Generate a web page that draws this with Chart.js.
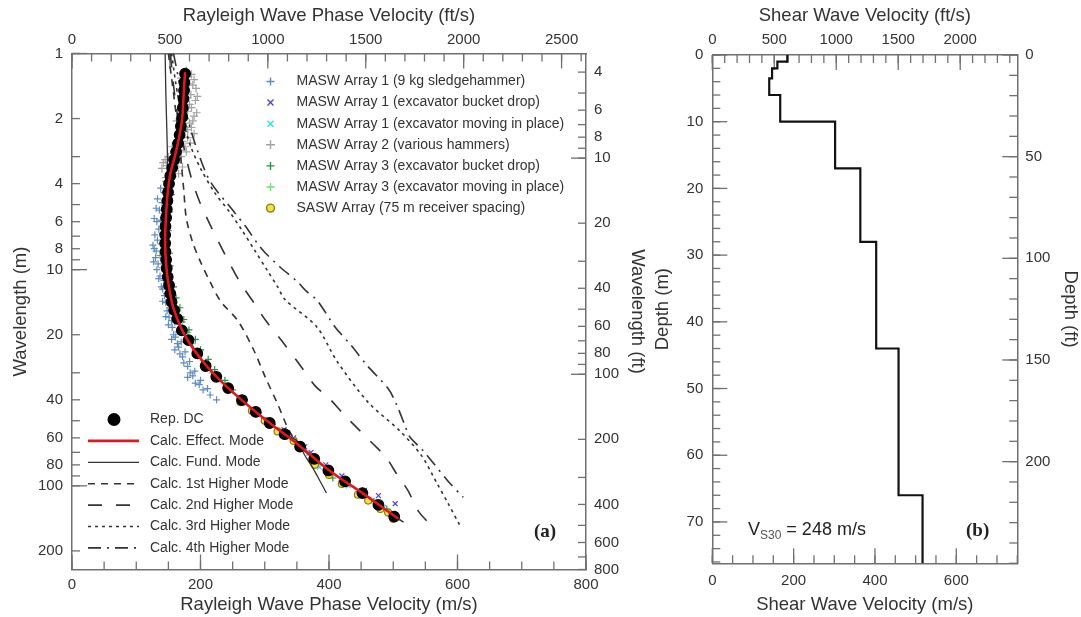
<!DOCTYPE html>
<html lang="en">
<head>
<meta charset="UTF-8" />
<title>Dispersion data and Vs profile</title>
<script src="https://cdn.jsdelivr.net/npm/chart.js"></script>
<style>
  body { margin: 0; background: #fff; }
  .wrap { position: relative; width: 1081px; height: 617px; }
  #dcBox { position: absolute; left: 0; top: 0; width: 650px; height: 617px; }
  #vsBox { position: absolute; left: 650px; top: 0; width: 431px; height: 617px; }
</style>
</head>
<body>
<div class="wrap">
  <div id="dcBox"><canvas id="dcChart"></canvas></div>
  <div id="vsBox"><canvas id="vsChart"></canvas></div>
</div>
<script>
const M_TO_FT = 3.28084;
const FONT = "'Liberation Sans', Arial, sans-serif";

// ---- (a) dispersion data: [phase velocity m/s, wavelength m] ----
const arr1Sledge = [[150,3.6],[146,3.9],[153,4.1],[143,4.4],[149,4.6],[140,4.9],[146,5.1],[136,5.3],[143,5.5],[150,5.7],[138,5.9],[145,6.2],[135,6.5],[141,6.8],[148,7.0],[133,7.3],[139,7.6],[145,7.9],[131,8.2],[137,8.6],[143,9.0],[134,9.4],[140,9.8],[146,10.2],[137,10.7],[143,11.2],[149,11.7],[141,12.3],[147,12.9],[153,13.5],[146,14.2],[152,15.0],[158,15.8],[151,16.6],[160,17.5],[156,18.5],[165,19.4],[161,20.5],[170,21.6],[166,22.8],[176,24],[172,25.3],[183,26.6],[180,28],[191,29.5],[188,31],[200,32.5],[198,34],[211,35.5],
  [138,4.2],[133,4.7],[131,5.2],[128,5.8],[132,6.0],[129,6.9],[126,7.7],[128,8.0],[130,8.8],[127,9.2],[132,10.0],[135,11.0],[139,12.0],[144,13.2],[141,14.0],[148,15.5],[146,16.5],[155,17.2],[150,18.0],[158,20.0],[155,21.0],[164,22.0],[160,23.5],[168,24.5],[174,27.0],[184,30.0],[180,31.5],[192,33.5],[204,36],[215,38],[225,40],[155,4.5],[152,5.4],[150,6.6],[152,8.4],[153,9.6],[150,12.2]];
const arr1Bucket = [[330,55],[345,60],[362,66],[372,70],[395,80],[420,90],[455,105],[477,111],[503,121]];
const arr1Moving = [[385,82],[400,88],[430,100],[455,110],[470,118],[485,126],[500,134]];
const arr2Hammers = [[178,1.2],[186,1.25],[170,1.3],[190,1.32],[182,1.38],[175,1.42],[193,1.45],[168,1.5],[185,1.55],[179,1.6],[192,1.65],[172,1.7],[186,1.78],[180,1.85],[168,1.9],[190,1.95],[176,2.0],[183,2.1],[170,2.15],[186,2.2],[175,2.3],[165,2.35],[180,2.45],[172,2.55],[162,2.6],[176,2.7],[168,2.8],[158,2.9],[150,3.0],[145,3.1],[155,3.15],[165,3.2],[148,3.3],[160,3.4],[152,3.55],[142,3.2],[170,3.0],
  [181,1.28],[188,1.4],[172,1.46],[195,1.58],[183,1.72],[176,1.82],[194,1.88],[188,2.05],[163,2.05],[180,2.25],[190,2.35],[170,2.45],[184,2.6],[156,2.7],[178,2.85],[162,3.05],[172,3.35],[140,3.4],[157,3.7],[146,3.75],[166,3.6]];
const arr3Bucket = [[158,12],[162,13.5],[168,15],[174,17],[182,19],[192,21],[200,23.5],[212,26],[222,29],[238,32.5],[250,36],[268,40],[290,46],[312,52],[335,59],[355,67],[370,72],[380,80],[406,92],[420,95],[448,108],[470,118],[490,128]];
const arr3Moving = [[165,15.5],[172,17.5],[180,19.5],[188,22],[198,24.5],[208,27],[218,30]];
const saswArray = [[262,41],[280,45],[300,50],[320,56],[345,62],[378,80],[400,89],[420,98],[445,110],[461,117],[480,128],[492,133],[500,142]];

const repDC = [[176,1.24],[175,1.36],[174.5,1.48],[173.5,1.62],[172.5,1.78],[171.5,1.97],[169.5,2.17],[167.5,2.38],[165,2.61],[162,2.85],[159,3.1],[156,3.38],[153,3.68],[151,4.0],[149.5,4.38],[148.5,4.8],[147.5,5.25],[146.5,5.75],[145.5,6.3],[145,6.9],[145,7.55],[145.5,8.25],[146.5,9.0],[147.5,9.85],[149,10.8],[151,11.8],[153,12.9],[155,14.1],[159,15.4],[164,16.9],[171,19.1],[181.5,21.2],[195,24.4],[208,27.9],[224.6,31.3],[243,35.3],[264.6,40.1],[286,45.5],[307.7,51.2],[331,57.7],[355,65.9],[377,75],[399,84.9],[425,95.3],[452,108],[477,122.6],[501.5,138.8]];
const effectMode = [[176,1.22],[174,1.5],[171.5,2.0],[166,2.5],[160,3.0],[153,3.6],[149,4.4],[146.5,5.5],[145,7.0],[145.5,8.5],[148,10.5],[152,12.5],[157,14.8],[165,17.2],[175,20],[190,23.5],[210,28],[235,33.5],[262,39.6],[290,46.5],[318,54],[345,62],[370,71.5],[395,82.5],[420,93.5],[446,105],[472,119],[496,134],[508,142]];
const fundMode = [[145,1.0],[146,1.5],[147.5,2.2],[148.5,3.0],[148,4.0],[147,5.0],[146,6.3],[145.5,7.5],[146,9],[148,10.8],[151.5,12.5],[155,14.3],[163,16.9],[171,19.1],[181.5,21.2],[195,24.4],[208,27.9],[225,31.3],[243,35.3],[265,40.1],[286,45.5],[308,51.2],[331,57.7],[351,62.3],[362,72],[374,82],[386,95],[396,108]];
const mode1 = [[150,1.0],[155,1.3],[160,1.7],[165,2.3],[170,3.2],[174,4.3],[178,5.8],[188,7.5],[200,9.2],[215,11.4],[232,14.1],[258,17.2],[283,23.6],[301,31.5],[320,41.8],[338,55.6],[355,65.9],[377,75],[399,84.9],[425,95.3],[452,108],[477,122.6],[502,138.8],[516,147]];
const mode2 = [[153,1.0],[158,1.4],[165,2.0],[175,2.8],[185,3.7],[198,4.8],[215,6.2],[238,8.5],[262,11.5],[285,14.5],[301.5,17.2],[330,22],[357,28.2],[378,34.4],[400,39.3],[422,46.4],[446,54.8],[466,62.9],[489,74],[507,89.8],[523,105.3],[539,131],[560,153.5]];
const mode3 = [[155,1.0],[162,1.4],[172,2.0],[185,2.7],[200,3.4],[222,4.4],[245,5.4],[265,6.6],[285,8.2],[305,10.2],[320,12],[332,13.8],[381,18.4],[412,26.4],[461,41.1],[510,55.6],[544,72.5],[568,97.3],[585,120],[604,153]];
const mode4 = [[158,1.0],[168,1.4],[180,2.0],[195,2.8],[215,3.9],[250,5.3],[270,6.3],[295,8.0],[325,9.8],[350,11.3],[365,12.6],[381,13.8],[410,18.5],[435,22.5],[459,27.7],[492,35.5],[505,42],[518,52.4],[526,59.5],[545,68],[562,78.2],[585,95],[609,113]];

// axis tick labels
const velTicks = [0, 200, 400, 600, 800];
const velFtTicks = [0, 500, 1000, 1500, 2000, 2500];
const wlTicks = [1, 2, 4, 6, 8, 10, 20, 40, 60, 80, 100, 200];
const wlFtTicks = [4, 6, 8, 10, 20, 40, 60, 80, 100, 200, 400, 600, 800];

// ---- (b) shear wave velocity profile ----
const layerTop = [0, 1, 2, 3.5, 6, 10, 17, 28, 44, 66];
const layerBottom = [1, 2, 3.5, 6, 10, 17, 28, 44, 66, 76.2];
const layerVs = [185, 160, 147, 140, 167, 302, 364, 403, 458, 517];
const vs30 = 248;

const vsTicks = [0, 200, 400, 600];
const vsFtTicks = [0, 500, 1000, 1500, 2000];
const depthTicks = [0, 10, 20, 30, 40, 50, 60, 70];
const depthFtTicks = [0, 50, 100, 150, 200];

function range(a, b, step) {
  const out = [];
  for (let v = a; v <= b + 1e-9; v += step) out.push(+v.toFixed(4));
  return out;
}
const logMinor = (from, to) => {
  const out = [];
  for (let d = from; d < to; d *= 10) for (let k = 1; k < 10; k++) out.push(k * d);
  return out;
};

const toXY = arr => arr.map(p => ({ x: p[0], y: p[1] }));

function drawMarker(ctx, style, x, y, r, stroke, fill) {
  ctx.save();
  ctx.strokeStyle = stroke;
  ctx.fillStyle = fill;
  ctx.lineWidth = 1.4;
  ctx.beginPath();
  if (style === 'cross') {
    ctx.moveTo(x - r, y); ctx.lineTo(x + r, y);
    ctx.moveTo(x, y - r); ctx.lineTo(x, y + r);
    ctx.stroke();
  } else if (style === 'crossRot') {
    const d = r * 0.75;
    ctx.moveTo(x - d, y - d); ctx.lineTo(x + d, y + d);
    ctx.moveTo(x + d, y - d); ctx.lineTo(x - d, y + d);
    ctx.stroke();
  } else {
    ctx.arc(x, y, r, 0, Math.PI * 2);
    ctx.fill();
    ctx.stroke();
  }
  ctx.restore();
}

// ticks drawn inside the plot box, taken from each scale
const innerTicks = {
  id: 'innerTicks',
  beforeDatasetsDraw(chart, args, opts) {
    const ctx = chart.ctx, a = chart.chartArea;
    ctx.save();
    ctx.strokeStyle = '#707070';
    ctx.lineWidth = 1.3;
    for (const id in opts.axes) {
      const s = chart.scales[id];
      const spec = opts.axes[id];
      const tick = (v, len) => {
        const p = s.getPixelForValue(v);
        ctx.beginPath();
        if (s.position === 'bottom') { ctx.moveTo(p, a.bottom); ctx.lineTo(p, a.bottom - len); }
        else if (s.position === 'top') { ctx.moveTo(p, a.top); ctx.lineTo(p, a.top + len); }
        else if (s.position === 'left') { ctx.moveTo(a.left, p); ctx.lineTo(a.left + len, p); }
        else { ctx.moveTo(a.right, p); ctx.lineTo(a.right - len, p); }
        ctx.stroke();
      };
      spec.minor.forEach(v => { if (v >= s.min && v <= s.max) tick(v, 8); });
      spec.major.forEach(v => { if (v >= s.min && v <= s.max) tick(v, 15); });
    }
    ctx.restore();
  }
};

// legends and labels drawn on top of the plot
const notes = {
  id: 'notes',
  afterDraw(chart, args, opts) {
    const ctx = chart.ctx;
    const ds = chart.data.datasets;
    ctx.save();
    (opts.legends || []).forEach(lg => {
      ctx.font = '14px ' + FONT;
      ctx.textBaseline = 'middle';
      lg.items.forEach((i, n) => {
        const d = ds[i];
        const y = lg.y + n * lg.dy;
        if (d.showLine) {
          ctx.save();
          ctx.strokeStyle = d.borderColor;
          ctx.lineWidth = d.borderWidth;
          ctx.setLineDash(d.borderDash || []);
          ctx.beginPath();
          ctx.moveTo(lg.lineX0, y);
          ctx.lineTo(lg.lineX1, y);
          ctx.stroke();
          ctx.restore();
        } else {
          drawMarker(ctx, d.pointStyle, lg.markX, y, d.pointRadius + (d.pointStyle === 'circle' ? 0.5 : 0.5),
            d.pointBorderColor || d.borderColor, d.pointBackgroundColor || d.backgroundColor);
        }
        ctx.fillStyle = '#333';
        ctx.fillText(d.label, lg.textX, y);
      });
    });
    (opts.texts || []).forEach(t => {
      ctx.textBaseline = 'middle';
      let x = t.x;
      t.parts.forEach(p => {
        ctx.font = p.font || t.font;
        ctx.fillStyle = p.color || t.color || '#222';
        ctx.fillText(p.text, x, t.y + (p.dy || 0));
        x += ctx.measureText(p.text).width;
      });
    });
    ctx.restore();
  }
};

const plain = v => String(v);
function axis(o) {
  return {
    type: o.type, position: o.position, min: o.min, max: o.max, reverse: !!o.reverse,
    grid: { display: false, drawTicks: false },
    border: { display: true, color: '#707070', width: 1.5 },
    afterBuildTicks: s => { s.ticks = o.ticks.map(v => ({ value: v })); },
    afterFit: s => { if (o.width) s.width = o.width; if (o.height) s.height = o.height; },
    ticks: { color: '#333', font: { family: FONT, size: 15 }, padding: o.pad, maxRotation: 0, autoSkip: false, callback: plain },
    title: { display: true, text: o.title, color: '#333', font: { family: FONT, size: 18.5 }, padding: o.titlePad }
  };
}

const scatterSet = (label, data, style, color, fill, r, order) => ({
  label, data: toXY(data), pointStyle: style, pointRadius: r, pointBorderWidth: 1.2,
  borderColor: color, backgroundColor: fill || color, pointBorderColor: color,
  pointBackgroundColor: fill || color, showLine: false, order
});
const lineSet = (label, data, color, width, dash, order) => ({
  label, data: toXY(data), showLine: true, pointRadius: 0, borderColor: color,
  backgroundColor: color, borderWidth: width, borderDash: dash, tension: 0.3, order
});

new Chart(document.getElementById('dcChart'), {
  type: 'scatter',
  data: {
    datasets: [
      scatterSet('MASW Array 1 (9 kg sledgehammer)', arr1Sledge, 'cross', '#5d8cc2', null, 3.5, 6),
      scatterSet('MASW Array 1 (excavator bucket drop)', arr1Bucket, 'crossRot', '#4646d6', null, 3.5, 4),
      scatterSet('MASW Array 1 (excavator moving in place)', arr1Moving, 'crossRot', '#30def0', null, 3.5, 4),
      scatterSet('MASW Array 2 (various hammers)', arr2Hammers, 'cross', '#a2a2a2', null, 4, 6),
      scatterSet('MASW Array 3 (excavator bucket drop)', arr3Bucket, 'cross', '#1d9a3c', null, 3.5, 5),
      scatterSet('MASW Array 3 (excavator moving in place)', arr3Moving, 'cross', '#6ee06e', null, 3.5, 5),
      scatterSet('SASW Array (75 m receiver spacing)', saswArray, 'circle', '#8b7d12', '#f2e33a', 3.5, 3),
      scatterSet('Rep. DC', repDC, 'circle', '#000', '#000', 5.3, 1),
      lineSet('Calc. Effect. Mode', effectMode, '#e8141b', 2.6, [], 0),
      lineSet('Calc. Fund. Mode', fundMode, '#333', 1.3, [], 2),
      lineSet('Calc. 1st Higher Mode', mode1, '#333', 1.6, [7, 6], 2),
      lineSet('Calc. 2nd Higher Mode', mode2, '#333', 1.6, [14, 14], 2),
      lineSet('Calc. 3rd Higher Mode', mode3, '#333', 1.6, [3, 4], 2),
      lineSet('Calc. 4th Higher Mode', mode4, '#333', 1.6, [13, 6, 2, 6], 2)
    ]
  },
  options: {
    responsive: true,
    maintainAspectRatio: false,
    animation: false,
    layout: { padding: 0 },
    plugins: {
      legend: { display: false },
      tooltip: { enabled: false },
      innerTicks: {
        axes: {
          x: { minor: range(0, 800, 50), major: velTicks },
          x2: { minor: range(0, 2600, 100), major: velFtTicks },
          y: { minor: logMinor(1, 1000), major: [1, 10, 100] },
          y2: { minor: logMinor(1, 1000), major: [10, 100] }
        }
      },
      notes: {
        legends: [
          { items: [0, 1, 2, 3, 4, 5, 6], markX: 270.5, textX: 296.5, y: 81.5, dy: 21.1 },
          { items: [7, 8, 9, 10, 11, 12, 13], markX: 114, lineX0: 88, lineX1: 139, textX: 150, y: 419.5, dy: 21.4 }
        ],
        texts: [
          { x: 534, y: 532, font: "bold 19px 'Liberation Serif', 'Times New Roman', serif", parts: [{ text: '(a)' }] }
        ]
      }
    },
    scales: {
      x: axis({ type: 'linear', position: 'bottom', min: 0, max: 800, ticks: velTicks, height: 47.5, pad: 6,
        title: 'Rayleigh Wave Phase Velocity (m/s)', titlePad: { top: 0, bottom: 1 } }),
      x2: axis({ type: 'linear', position: 'top', min: 0, max: 800 * M_TO_FT, ticks: velFtTicks, height: 53.5, pad: 5,
        title: 'Rayleigh Wave Phase Velocity (ft/s)', titlePad: { top: 5, bottom: 0 } }),
      y: axis({ type: 'logarithmic', position: 'left', reverse: true, min: 1, max: 800 / M_TO_FT, ticks: wlTicks, width: 72, pad: 9,
        title: 'Wavelength (m)', titlePad: { top: 10, bottom: 0 } }),
      y2: axis({ type: 'logarithmic', position: 'right', reverse: true, min: M_TO_FT, max: 800, ticks: wlFtTicks, width: 64, pad: 8,
        title: 'Wavelength (ft)', titlePad: { top: 2, bottom: 0 } })
    }
  },
  plugins: [innerTicks, notes]
});

// step profile corners built from the layer table
const profile = [];
layerVs.forEach((v, i) => { profile.push([v, layerTop[i]], [v, layerBottom[i]]); });

new Chart(document.getElementById('vsChart'), {
  type: 'scatter',
  data: {
    datasets: [{
      label: 'Vs profile', data: toXY(profile), showLine: true, pointRadius: 0,
      borderColor: '#111', borderWidth: 2.2, tension: 0
    }]
  },
  options: {
    responsive: true,
    maintainAspectRatio: false,
    animation: false,
    layout: { padding: 0 },
    plugins: {
      legend: { display: false },
      tooltip: { enabled: false },
      innerTicks: {
        axes: {
          x: { minor: range(0, 750, 50), major: vsTicks },
          x2: { minor: range(0, 2400, 100), major: vsFtTicks },
          y: { minor: range(0, 76, 2), major: depthTicks },
          y2: { minor: range(0, 250, 10), major: depthFtTicks }
        }
      },
      notes: {
        texts: [
          { x: 98, y: 530, font: '18px ' + FONT, color: '#222', parts: [
            { text: 'V' },
            { text: 'S30', font: '12px ' + FONT, dy: 6, color: '#555' },
            { text: ' = ' + vs30 + ' m/s' }
          ] },
          { x: 316, y: 531, font: "bold 19px 'Liberation Serif', 'Times New Roman', serif", parts: [{ text: '(b)' }] }
        ]
      }
    },
    scales: {
      x: axis({ type: 'linear', position: 'bottom', min: 0, max: 750, ticks: vsTicks, height: 53.7, pad: 9,
        title: 'Shear Wave Velocity (m/s)', titlePad: { top: 0, bottom: 1 } }),
      x2: axis({ type: 'linear', position: 'top', min: 0, max: 750 * M_TO_FT, ticks: vsFtTicks, height: 55, pad: 6,
        title: 'Shear Wave Velocity (ft/s)', titlePad: { top: 5, bottom: 0 } }),
      y: axis({ type: 'linear', position: 'left', reverse: true, min: 0, max: 250 / M_TO_FT, ticks: depthTicks, width: 62.3, pad: 9,
        title: 'Depth (m)', titlePad: { top: 2, bottom: 0 } }),
      y2: axis({ type: 'linear', position: 'right', reverse: true, min: 0, max: 250, ticks: depthFtTicks, width: 63.7, pad: 8,
        title: 'Depth (ft)', titlePad: { top: 0, bottom: 0 } })
    }
  },
  plugins: [innerTicks, notes]
});
</script>
</body>
</html>
